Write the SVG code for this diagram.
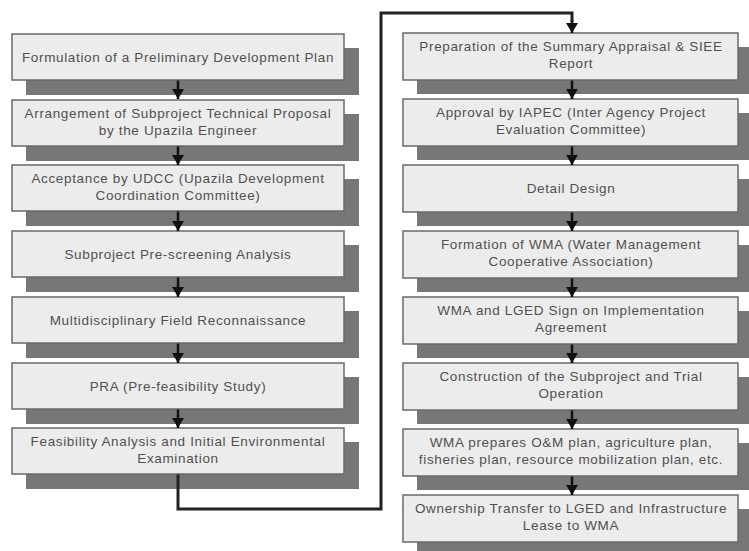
<svg xmlns="http://www.w3.org/2000/svg" width="749" height="551" viewBox="0 0 749 551">
<style>
.sh{fill:#777}
.bx{fill:#ececec;stroke:#6a6a6a;stroke-width:1.5}
.t{font-family:"Liberation Sans",Arial,sans-serif;font-size:13.5px;letter-spacing:0.65px;fill:#505050;text-anchor:middle}
.a{stroke:#111;stroke-width:2.5;fill:none;marker-end:url(#ah)}
.big{stroke:#222;stroke-width:3;fill:none}
</style>
<defs>
<marker id="ah" markerUnits="userSpaceOnUse" markerWidth="10" markerHeight="12" viewBox="0 0 10 12" refX="10" refY="6" orient="auto">
<path d="M0,0 L10,6 L0,12 Z" fill="#111"/>
</marker>
</defs>
<rect width="749" height="551" fill="#fff"/>
<g id="n1"><rect class="sh" x="26" y="48" width="333" height="47"/><rect class="bx" x="12" y="34" width="332" height="46"/><text class="t" x="178" y="61.5">Formulation of a Preliminary Development Plan</text></g>
<g id="n2"><rect class="sh" x="26" y="114" width="333" height="47"/><rect class="bx" x="12" y="100" width="332" height="46"/><text class="t" x="178" y="118">Arrangement of Subproject Technical Proposal</text><text class="t" x="178" y="135">by the Upazila Engineer</text></g>
<g id="n3"><rect class="sh" x="26" y="179" width="333" height="47"/><rect class="bx" x="12" y="165" width="332" height="46"/><text class="t" x="178" y="183">Acceptance by UDCC (Upazila Development</text><text class="t" x="178" y="200">Coordination Committee)</text></g>
<g id="n4"><rect class="sh" x="26" y="245" width="333" height="47"/><rect class="bx" x="12" y="231" width="332" height="46"/><text class="t" x="178" y="258.5">Subproject Pre-screening Analysis</text></g>
<g id="n5"><rect class="sh" x="26" y="311" width="333" height="47"/><rect class="bx" x="12" y="297" width="332" height="46"/><text class="t" x="178" y="324.5">Multidisciplinary Field Reconnaissance</text></g>
<g id="n6"><rect class="sh" x="26" y="377" width="333" height="47"/><rect class="bx" x="12" y="363" width="332" height="46"/><text class="t" x="178" y="390.5">PRA (Pre-feasibility Study)</text></g>
<g id="n7"><rect class="sh" x="26" y="442" width="333" height="47"/><rect class="bx" x="12" y="428" width="332" height="46"/><text class="t" x="178" y="446">Feasibility Analysis and Initial Environmental</text><text class="t" x="178" y="463">Examination</text></g>
<g id="n8"><rect class="sh" x="417" y="47" width="340" height="47"/><rect class="bx" x="403" y="33" width="335" height="47"/><text class="t" x="571" y="51">Preparation of the Summary Appraisal &amp; SIEE</text><text class="t" x="571" y="68">Report</text></g>
<g id="n9"><rect class="sh" x="417" y="113" width="340" height="47"/><rect class="bx" x="403" y="99" width="335" height="47"/><text class="t" x="571" y="117">Approval by IAPEC (Inter Agency Project</text><text class="t" x="571" y="134">Evaluation Committee)</text></g>
<g id="n10"><rect class="sh" x="417" y="179" width="340" height="47"/><rect class="bx" x="403" y="165" width="335" height="47"/><text class="t" x="571" y="193">Detail Design</text></g>
<g id="n11"><rect class="sh" x="417" y="245" width="340" height="47"/><rect class="bx" x="403" y="231" width="335" height="47"/><text class="t" x="571" y="249">Formation of WMA (Water Management</text><text class="t" x="571" y="266">Cooperative Association)</text></g>
<g id="n12"><rect class="sh" x="417" y="311" width="340" height="47"/><rect class="bx" x="403" y="297" width="335" height="47"/><text class="t" x="571" y="315">WMA and LGED Sign on Implementation</text><text class="t" x="571" y="332">Agreement</text></g>
<g id="n13"><rect class="sh" x="417" y="377" width="340" height="47"/><rect class="bx" x="403" y="363" width="335" height="47"/><text class="t" x="571" y="381">Construction of the Subproject and Trial</text><text class="t" x="571" y="398">Operation</text></g>
<g id="n14"><rect class="sh" x="417" y="443" width="340" height="47"/><rect class="bx" x="403" y="429" width="335" height="47"/><text class="t" x="571" y="447">WMA prepares O&amp;M plan, agriculture plan,</text><text class="t" x="571" y="464">fisheries plan, resource mobilization plan, etc.</text></g>
<g id="n15"><rect class="sh" x="417" y="509" width="340" height="47"/><rect class="bx" x="403" y="495" width="335" height="47"/><text class="t" x="571" y="513">Ownership Transfer to LGED and Infrastructure</text><text class="t" x="571" y="530">Lease to WMA</text></g>
<g id="connectors">
<path class="a" d="M178,80.5 V99"/>
<path class="a" d="M178,146.5 V165"/>
<path class="a" d="M178,211.5 V231"/>
<path class="a" d="M178,277.5 V297"/>
<path class="a" d="M178,343.5 V363"/>
<path class="a" d="M178,409.5 V428"/>
<path class="big" d="M178,474.5 V509 H381 V13 H572 V22"/>
<path class="a" d="M572,20 V33"/>
<path class="a" d="M572,80.5 V99"/>
<path class="a" d="M572,146.5 V165"/>
<path class="a" d="M572,212.5 V231"/>
<path class="a" d="M572,278.5 V297"/>
<path class="a" d="M572,344.5 V363"/>
<path class="a" d="M572,410.5 V429"/>
<path class="a" d="M572,476.5 V495"/>
</g>
</svg>
